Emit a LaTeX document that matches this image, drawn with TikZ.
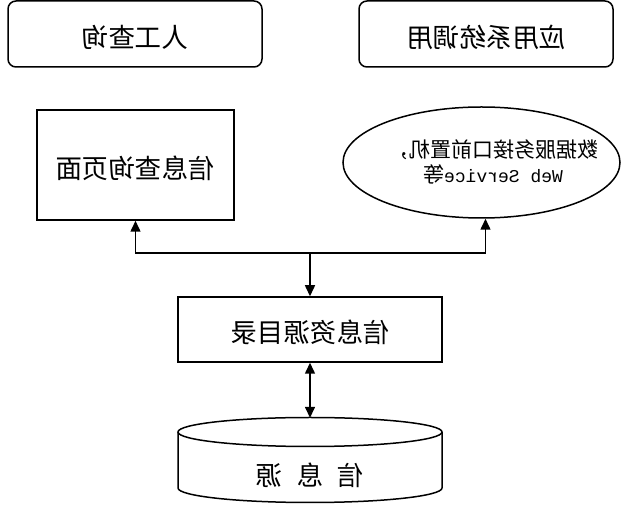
\documentclass[tikz,border=0pt]{standalone}
\usepackage{fontspec}
\usepackage{graphicx}
\setmainfont{Noto Sans CJK SC}
\newfontfamily\ttlat{Liberation Mono}
\usetikzlibrary{arrows.meta,shapes.geometric}
\begin{document}
\begin{tikzpicture}[x=1pt,y=-1pt,
  every node/.style={inner sep=0pt},
  rbox/.style={draw,line width=1.5pt,rounded corners=8pt,minimum width=254pt,minimum height=66pt},
  sbox/.style={draw,line width=1.5pt},
  big/.style={font=\fontsize{26.5}{30}\selectfont},
  arr/.style={line width=1.5pt,-{Triangle[length=11pt,width=10pt]}},
  darr/.style={line width=1.5pt,{Triangle[length=11pt,width=10pt]}-{Triangle[length=11pt,width=10pt]}}]
\useasboundingbox (0,0) rectangle (630,510);
% top rounded boxes
\node[rbox] (manual) at (135,34) {};
\node[big] (manualt) at (135,37) {\reflectbox{人工查询}};
\node[rbox] (app) at (486,34) {};
\node[big] (appt) at (486,37) {\reflectbox{应用系统调用}};
% info query page
\node[sbox,minimum width=197pt,minimum height=110pt] (page) at (135.5,165) {};
\node[big] (paget) at (135.5,168) {\reflectbox{信息查询页面}};
% ellipse
\node[draw,ellipse,line width=1.5pt,minimum width=277pt,minimum height=111pt] (svc) at (481.5,162.5) {};
\node[align=center,font=\fontsize{21}{25}\selectfont] (svct) at (493,162) {\reflectbox{数据服务接口前置机，}\\\reflectbox{{\ttlat\fontsize{18}{25}\selectfont Web Service}等}};
% catalogue
\node[sbox,minimum width=264pt,minimum height=65pt] (cat) at (310,329.5) {};
\node[big] (catt) at (310,332) {\reflectbox{信息资源目录}};
% cylinder
\node[minimum width=264pt,minimum height=85pt] (src) at (310,460.5) {};
\draw[line width=1.5pt] (310,432) ellipse [x radius=132, y radius=14.5];
\draw[line width=1.5pt] (178,432) -- (178,488) arc[start angle=180,end angle=0,x radius=132,y radius=14.5] -- (442,432);
\node[big] (srct) at (310,475) {\reflectbox{信\hspace{14pt}息\hspace{14pt}源}};
% connectors
\coordinate (junc) at (310,253);
\draw[arr] (junc) -- (cat.north);
\draw[arr] (junc) -| (page.south);
\draw[arr] (junc) -| ([xshift=4pt]svc.south);
\draw[darr] (cat.south) -- (src.north);
\end{tikzpicture}
\end{document}
